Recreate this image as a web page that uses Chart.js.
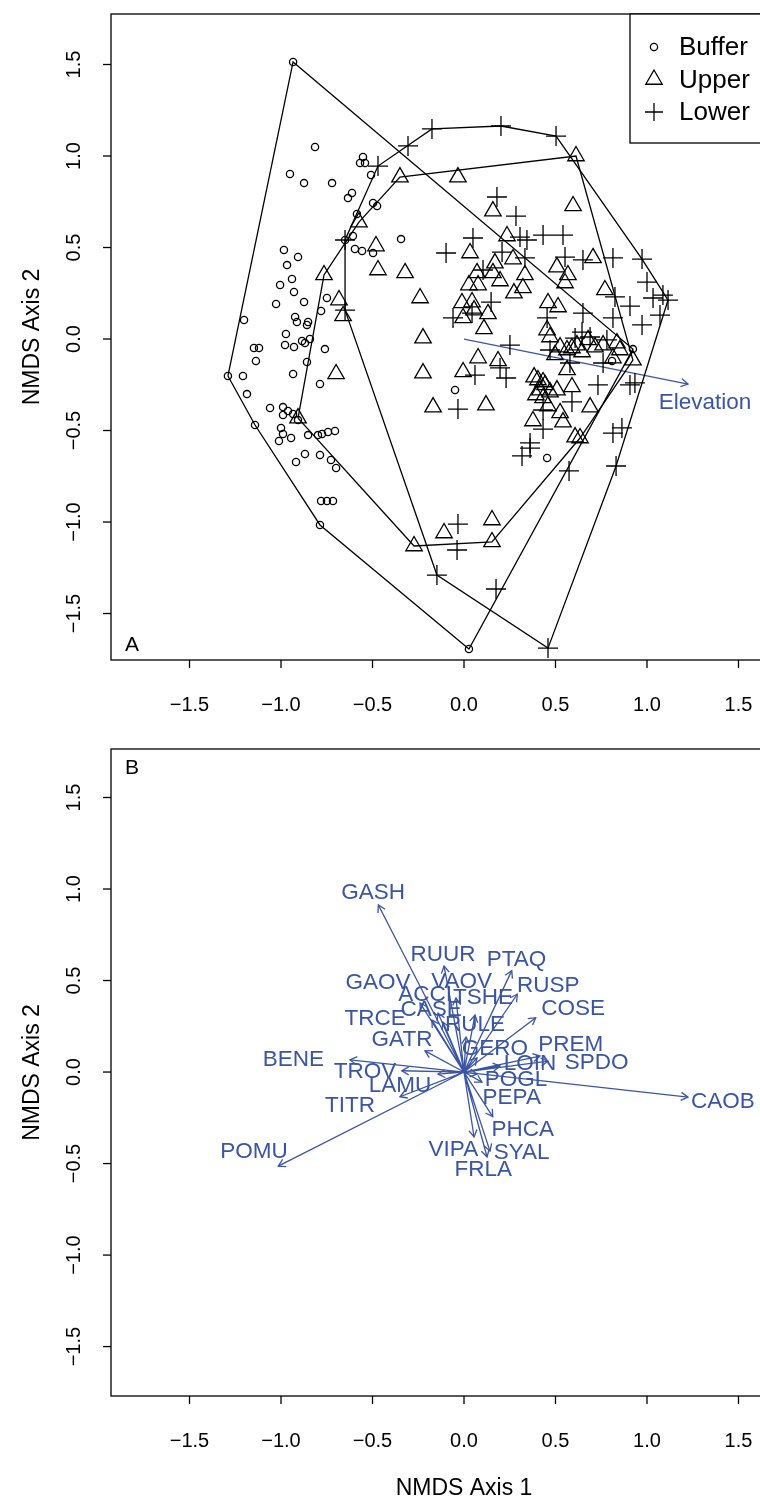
<!DOCTYPE html>
<html>
<head>
<meta charset="utf-8">
<script src="https://cdn.jsdelivr.net/npm/chart.js@4/dist/chart.umd.min.js"></script>
<style>
html, body { margin: 0; padding: 0; background: #fff; overflow: hidden; width: 760px; height: 1502px; }
#panelA { position: absolute; left: 0; top: 0; }
#panelB { position: absolute; left: 0; top: 735px; }
</style>
</head>
<body>
<canvas id="panelA" width="830" height="735"></canvas>
<canvas id="panelB" width="830" height="767"></canvas>
<script>
// ---- data (NMDS scores) ----
const xTicks = [-1.5, -1.0, -0.5, 0.0, 0.5, 1.0, 1.5];
const yTicks = [-1.5, -1.0, -0.5, 0.0, 0.5, 1.0, 1.5];
const groupNames = ['Buffer', 'Upper', 'Lower'];

const bufferX = [-0.934, -0.814, -0.951, -0.874, -0.721, -0.552, -0.568, -0.541, -0.508, -0.612, -0.634, -0.497, -0.475, -0.585,
  -0.344, -0.607, -0.650, -0.596, -0.557, -0.497, -0.984, -0.907, -0.967, -0.940, -1.005, -0.929, -0.874, -1.027, -0.749,
  -0.781, -0.923, -0.913, -0.852, -0.858, -1.202, -0.973, -0.978, -0.929, -0.885, -0.869, -0.842, -0.760, -1.148, -1.120,
  -1.137, -0.858, -1.290, -1.208, -0.934, -0.787, -1.186, -1.060, -0.989, -0.962, -0.989, -0.934, -0.907, -1.142, -1.000,
  -0.989, -0.945, -1.011, -0.852, -0.798, -0.776, -0.743, -0.705, -0.918, -0.869, -0.787, -0.727, -0.699, -0.781, -0.749,
  -0.716, -0.787, 0.027, 0.454, -0.049, 0.923, 0.809];
const bufferY = [1.514, 1.049, 0.902, 0.852, 0.852, 0.995, 0.962, 0.962, 0.896, 0.798, 0.770, 0.743, 0.727, 0.683,
  0.546, 0.563, 0.541, 0.492, 0.481, 0.470, 0.486, 0.448, 0.404, 0.328, 0.295, 0.257, 0.202, 0.191, 0.224,
  0.153, 0.120, 0.093, 0.093, 0.077, 0.104, 0.027, -0.033, -0.044, -0.011, -0.022, 0.000, -0.055, -0.049, -0.049,
  -0.120, -0.126, -0.202, -0.202, -0.191, -0.246, -0.301, -0.377, -0.372, -0.393, -0.415, -0.410, -0.443, -0.470, -0.486,
  -0.519, -0.541, -0.557, -0.525, -0.525, -0.519, -0.508, -0.503, -0.672, -0.628, -0.634, -0.661, -0.705, -0.885, -0.885,
  -0.885, -1.016, -1.694, -0.650, -0.279, -0.055, -0.120];

const upperX = [-0.350, -0.033, 0.158, -0.574, 0.612, 0.596, -0.481, -0.470, -0.322, -0.683, -0.661, -0.240, 0.033, 0.169,
  0.268, 0.235, 0.071, 0.158, 0.197, 0.333, 0.322, 0.273, 0.027, 0.077, -0.011, 0.044, 0.055, 0.131, -0.005, 0.109,
  -0.224, 0.077, 0.186, -0.005, -0.224, -0.699, -0.169, 0.120, 0.383, 0.432, 0.415, 0.432, 0.459, 0.377, 0.454, 0.459,
  0.705, 0.508, 0.568, 0.770, 0.514, 0.470, 0.563, 0.617, 0.678, 0.716, 0.836, 0.852, 0.923, 0.814, 0.563, 0.590,
  0.508, 0.525, 0.541, 0.689, 0.634, 0.607, -0.765, -0.907, -0.273, -0.109, 0.153, 0.153, 0.443, 0.404, 0.470, 0.393,
  0.497, 0.525, 0.590, 0.645, 0.760, 0.552];
const upperY = [0.885, 0.885, 0.699, 0.639, 1.000, 0.727, 0.508, 0.377, 0.361, 0.213, 0.126, 0.224, 0.470, 0.415,
  0.437, 0.563, 0.361, 0.361, 0.317, 0.350, 0.279, 0.251, 0.295, 0.295, 0.197, 0.202, 0.158, 0.137, 0.115, 0.055,
  0.005, -0.104, -0.120, -0.180, -0.186, -0.191, -0.372, -0.361, -0.208, -0.235, -0.279, -0.322, -0.366, -0.448, 0.049, 0.197,
  0.443, 0.393, 0.350, 0.268, 0.175, 0.011, -0.060, -0.033, -0.005, -0.044, -0.022, -0.060, -0.115, -0.104, -0.169, -0.262,
  -0.279, -0.404, -0.454, -0.372, -0.541, -0.536, 0.350, -0.432, -1.131, -1.060, -0.989, -1.109, -0.251, -0.224, -0.290, -0.306,
  -0.087, -0.044, -0.049, -0.071, -0.033, 0.306];

const lowerX = [-0.175, 0.202, -0.306, -0.470, 0.180, 0.284, 0.503, 0.049, -0.098, 0.208, 0.306, 0.344, 0.432, 0.104,
  0.333, 0.148, -0.060, 0.044, 0.251, 0.060, 0.197, 0.230, -0.033, 0.432, 0.432, 0.361, -0.650, -0.650, 0.454,
  0.541, 0.552, 0.650, 0.814, 0.973, 1.000, 1.087, 1.115, 1.033, 0.825, 0.907, 0.814, 1.071, 0.973, 0.650, 0.645,
  0.607, 0.689, 0.781, 0.470, 0.579, 0.732, 0.907, 0.934, 0.590, 0.814, 0.863, 0.760, -0.033, -0.038, -0.148, 0.175,
  0.317, 0.361, 0.459, 0.574, 0.831];
const lowerY = [1.148, 1.164, 1.055, 0.945, 0.776, 0.672, 1.109, 0.552, 0.470, 0.475, 0.557, 0.541, 0.568, 0.377,
  0.443, 0.202, 0.115, 0.142, -0.033, -0.197, -0.158, -0.213, -0.383, -0.388, -0.492, -0.568, 0.158, 0.541, 0.115,
  0.568, 0.448, 0.432, 0.443, 0.437, 0.311, 0.240, 0.213, 0.224, 0.230, 0.180, 0.115, 0.131, 0.077, 0.142, 0.038,
  0.005, 0.011, -0.005, -0.060, -0.131, -0.251, -0.251, -0.240, -0.344, -0.514, -0.486, -0.131, -1.011, -1.153, -1.290, -1.366,
  -0.639, -0.596, -1.689, -0.721, -0.694];

// fitted elevation vector and its label
const elevationVector = [1.224, -0.246];
const elevationLabel = [1.317, -0.348];

// species vectors (panel B) and the place of each label
const speciesNames = ['GASH', 'RUUR', 'PTAQ', 'GAOV', 'VAOV', 'ACCI', 'TSHE', 'RUSP', 'CASE', 'COSE', 'TRCE', 'RULE',
  'GATR', 'GERO', 'PREM', 'LOIN', 'SPDO', 'BENE', 'TROV', 'LAMU', 'POGL', 'CAOB', 'TITR', 'PEPA', 'PHCA', 'VIPA',
  'SYAL', 'FRLA', 'POMU'];
const speciesX = [-0.468, -0.109, 0.261, -0.240, -0.044, -0.142, 0.060, 0.291, -0.115, 0.392, -0.175, 0.011,
  -0.213, 0.071, 0.415, 0.197, 0.459, -0.623, -0.340, -0.142, 0.071, 1.224, -0.350, 0.098, 0.157, 0.055,
  0.142, 0.126, -1.015];
const speciesY = [0.913, 0.579, 0.554, 0.377, 0.404, 0.322, 0.311, 0.425, 0.273, 0.297, 0.284, 0.191,
  0.116, 0.077, 0.087, 0.033, 0.060, 0.066, 0.007, -0.011, -0.011, -0.137, -0.135, -0.055, -0.244, -0.355,
  -0.432, -0.464, -0.514];
const labelX = [-0.497, -0.115, 0.287, -0.470, -0.013, -0.213, 0.104, 0.461, -0.180, 0.597, -0.486, 0.060,
  -0.339, 0.169, 0.583, 0.361, 0.725, -0.933, -0.541, -0.350, 0.284, 1.415, -0.623, 0.261, 0.321, -0.058,
  0.315, 0.105, -1.148];
const labelY = [0.978, 0.639, 0.612, 0.486, 0.493, 0.421, 0.404, 0.472, 0.339, 0.348, 0.293, 0.257,
  0.175, 0.126, 0.148, 0.044, 0.053, 0.069, 0.002, -0.077, -0.044, -0.164, -0.186, -0.140, -0.313, -0.426,
  -0.441, -0.536, -0.437];

// ---- helpers ----
const FONT = '"Liberation Sans", Arial, Helvetica, sans-serif';
const BLUE = '#3a55a4';

function toPoints(xs, ys) {
  return xs.map((x, i) => ({ x: x, y: ys[i] }));
}

function convexHull(pts) {
  const p = pts.slice().sort((a, b) => a.x - b.x || a.y - b.y);
  const cross = (o, a, b) => (a.x - o.x) * (b.y - o.y) - (a.y - o.y) * (b.x - o.x);
  const lower = [];
  for (const q of p) {
    while (lower.length >= 2 && cross(lower[lower.length - 2], lower[lower.length - 1], q) <= 0) lower.pop();
    lower.push(q);
  }
  const upper = [];
  for (let i = p.length - 1; i >= 0; i--) {
    const q = p[i];
    while (upper.length >= 2 && cross(upper[upper.length - 2], upper[upper.length - 1], q) <= 0) upper.pop();
    upper.push(q);
  }
  upper.pop();
  lower.pop();
  const hull = lower.concat(upper);
  hull.push(hull[0]);
  return hull;
}

function arrowHead(ctx, x0, y0, x1, y1, len) {
  const a = Math.atan2(y1 - y0, x1 - x0);
  const s = Math.PI / 6;
  ctx.beginPath();
  ctx.moveTo(x1 - len * Math.cos(a - s), y1 - len * Math.sin(a - s));
  ctx.lineTo(x1, y1);
  ctx.lineTo(x1 - len * Math.cos(a + s), y1 - len * Math.sin(a + s));
  ctx.stroke();
}

// R style frame, ticks and rotated y labels
const rAxes = {
  id: 'rAxes',
  afterDraw(chart, args, opts) {
    const ctx = chart.ctx;
    const area = chart.chartArea;
    const xs = chart.scales.x, ys = chart.scales.y;
    ctx.save();
    ctx.strokeStyle = '#000';
    ctx.lineWidth = 1.3;
    ctx.strokeRect(area.left, area.top, area.right - area.left, area.bottom - area.top);

    ctx.fillStyle = '#000';
    ctx.font = '20px ' + FONT;
    ctx.textAlign = 'center';
    ctx.textBaseline = 'middle';
    xTicks.forEach(v => {
      const px = xs.getPixelForValue(v);
      ctx.beginPath();
      ctx.moveTo(px, area.bottom);
      ctx.lineTo(px, area.bottom + 8);
      ctx.stroke();
      ctx.fillText(v.toFixed(1).replace('-', '\u2212'), px, area.bottom + 45);
    });
    yTicks.forEach(v => {
      const py = ys.getPixelForValue(v);
      ctx.beginPath();
      ctx.moveTo(area.left, py);
      ctx.lineTo(area.left - 8, py);
      ctx.stroke();
      ctx.save();
      ctx.translate(area.left - 37, py);
      ctx.rotate(-Math.PI / 2);
      ctx.fillText(v.toFixed(1).replace('-', '\u2212'), 0, 0);
      ctx.restore();
    });

    ctx.font = '23px ' + FONT;
    ctx.save();
    ctx.translate(33, (area.top + area.bottom) / 2);
    ctx.rotate(-Math.PI / 2);
    ctx.fillText('NMDS Axis 2', 0, 0);
    ctx.restore();
    if (opts.xTitle) {
      ctx.fillText(opts.xTitle, (area.left + area.right) / 2, area.bottom + 93);
    }

    ctx.font = '21px ' + FONT;
    ctx.textAlign = 'left';
    ctx.fillText(opts.tag, area.left + 14, opts.tagAtTop ? area.top + 19 : area.bottom - 15);
    ctx.restore();
  }
};

// arrowheads and blue labels for vector datasets
const vectorLabels = {
  id: 'vectorLabels',
  afterDatasetsDraw(chart, args, opts) {
    const ctx = chart.ctx;
    const xs = chart.scales.x, ys = chart.scales.y;
    ctx.save();
    ctx.strokeStyle = BLUE;
    ctx.lineWidth = 1.3;
    chart.data.datasets.forEach((ds, di) => {
      if (!ds.isVector) return;
      const pts = chart.getDatasetMeta(di).data;
      for (let i = 1; i < pts.length; i++) {
        if (pts[i].skip || pts[i - 1].skip) continue;
        arrowHead(ctx, pts[i - 1].x, pts[i - 1].y, pts[i].x, pts[i].y, 8);
      }
    });
    ctx.fillStyle = BLUE;
    ctx.font = '22.5px ' + FONT;
    ctx.textAlign = 'center';
    ctx.textBaseline = 'middle';
    opts.names.forEach((n, i) => {
      ctx.fillText(n, xs.getPixelForValue(opts.lx[i]), ys.getPixelForValue(opts.ly[i]));
    });
    ctx.restore();
  }
};

// legend box in the top right corner of panel A
const groupLegend = {
  id: 'groupLegend',
  afterDraw(chart) {
    const ctx = chart.ctx;
    const area = chart.chartArea;
    const left = area.right - 187;
    const styles = ['circle', 'triangle', 'cross'];
    const radii = [3.6, 9.5, 9];
    ctx.save();
    ctx.fillStyle = '#fff';
    ctx.fillRect(left, area.top, area.right - left, 129);
    ctx.strokeStyle = '#000';
    ctx.lineWidth = 1.3;
    ctx.strokeRect(left, area.top, area.right - left, 129);
    ctx.font = '26px ' + FONT;
    ctx.textAlign = 'left';
    ctx.textBaseline = 'middle';
    groupNames.forEach((g, i) => {
      const y = area.top + 33 + i * 32.5;
      ctx.fillStyle = 'rgba(0,0,0,0)';
      Chart.helpers.drawPoint(ctx, {
        pointStyle: styles[i], radius: radii[i], borderWidth: 1.3, rotation: 0
      }, left + 24, y);
      ctx.fillStyle = '#000';
      ctx.fillText(g, left + 49, y + 1);
    });
    ctx.restore();
  }
};

function baseOptions(pad, yMin, yMax) {
  return {
    responsive: false,
    animation: false,
    events: [],
    layout: { padding: pad },
    plugins: { legend: { display: false }, tooltip: { enabled: false } },
    scales: {
      x: { type: 'linear', min: -1.929, max: 1.929, display: false },
      y: { type: 'linear', min: yMin, max: yMax, display: false }
    }
  };
}

function hullDataset(xs, ys) {
  return {
    data: convexHull(toPoints(xs, ys)),
    showLine: true, pointRadius: 0, borderColor: '#000', borderWidth: 1.3, tension: 0, fill: false
  };
}

function pointDataset(xs, ys, style, r) {
  return {
    label: style,
    data: toPoints(xs, ys),
    pointStyle: style, pointRadius: r, pointBorderWidth: 1.3,
    pointBorderColor: '#000', pointBackgroundColor: 'rgba(0,0,0,0)', showLine: false
  };
}

function initPanelA() {
  const ctx = document.getElementById('panelA');
  const opts = baseOptions({ left: 111, top: 14, right: 13, bottom: 75 }, -1.754, 1.776);
  opts.plugins.rAxes = { tag: 'A', tagAtTop: false };
  opts.plugins.vectorLabels = { names: ['Elevation'], lx: [elevationLabel[0]], ly: [elevationLabel[1]] };
  window.panelA = new Chart(ctx, {
    type: 'scatter',
    data: {
      datasets: [
        pointDataset(bufferX, bufferY, 'circle', 3.6),
        pointDataset(upperX, upperY, 'triangle', 9.5),
        pointDataset(lowerX, lowerY, 'cross', 10),
        hullDataset(bufferX, bufferY),
        hullDataset(upperX, upperY),
        hullDataset(lowerX, lowerY),
        {
          isVector: true,
          data: [{ x: 0, y: 0 }, { x: elevationVector[0], y: elevationVector[1] }],
          showLine: true, pointRadius: 0, borderColor: BLUE, borderWidth: 1.3
        }
      ]
    },
    options: opts,
    plugins: [rAxes, vectorLabels, groupLegend]
  });
}

function initPanelB() {
  const ctx = document.getElementById('panelB');
  const opts = baseOptions({ left: 111, top: 14, right: 13, bottom: 106 }, -1.770, 1.765);
  opts.plugins.rAxes = { tag: 'B', tagAtTop: true, xTitle: 'NMDS Axis 1' };
  opts.plugins.vectorLabels = { names: speciesNames, lx: labelX, ly: labelY };
  // every species vector starts at the origin; NaN breaks the line between vectors
  const shafts = [];
  speciesX.forEach((x, i) => {
    shafts.push({ x: 0, y: 0 }, { x: x, y: speciesY[i] }, { x: NaN, y: NaN });
  });
  window.panelB = new Chart(ctx, {
    type: 'scatter',
    data: {
      datasets: [{
        isVector: true,
        data: shafts,
        showLine: true, spanGaps: false, pointRadius: 0, borderColor: BLUE, borderWidth: 1.3
      }]
    },
    options: opts,
    plugins: [rAxes, vectorLabels]
  });
}

document.addEventListener('DOMContentLoaded', function() {
  initPanelA();
  initPanelB();
});
</script>
</body>
</html>
